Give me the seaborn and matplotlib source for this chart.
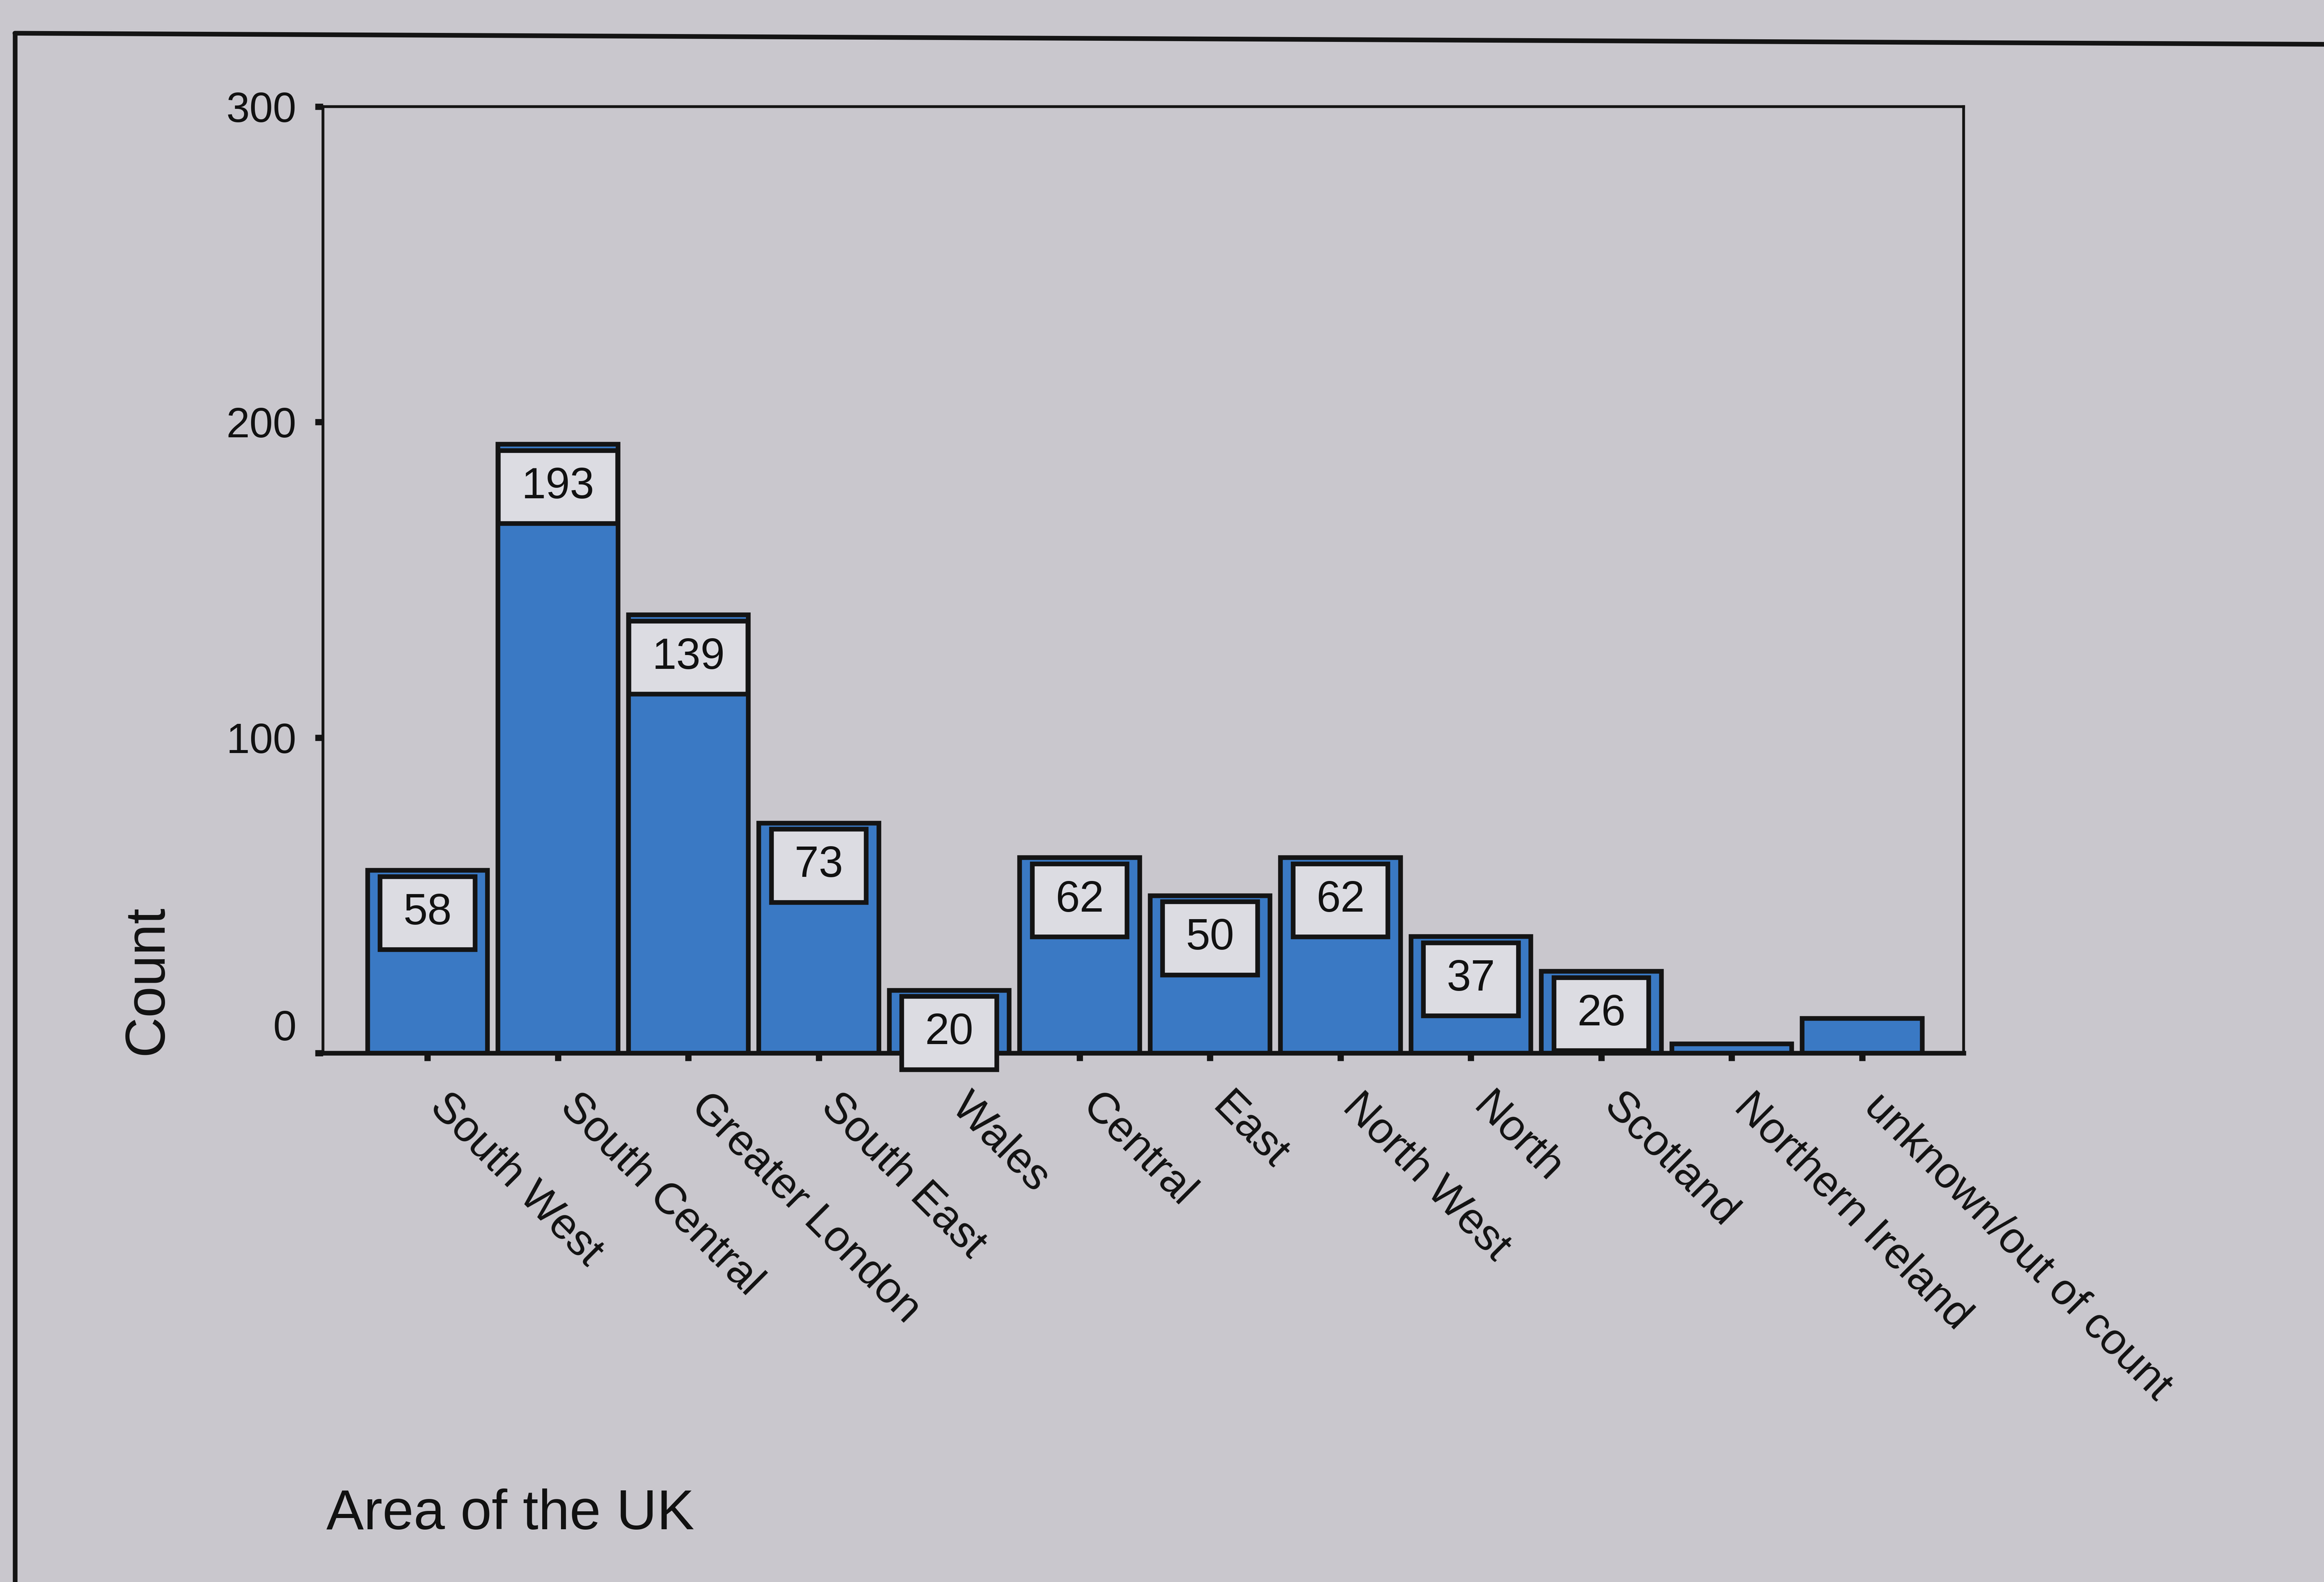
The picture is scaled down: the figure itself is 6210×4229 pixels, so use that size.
import numpy as np
import pandas as pd
import matplotlib
matplotlib.use("Agg")
import matplotlib.pyplot as plt
import matplotlib.transforms as mtransforms
from matplotlib.lines import Line2D
from matplotlib.path import Path
import seaborn as sns

# ---- data ----
areas = ["South West", "South Central", "Greater London", "South East", "Wales",
         "Central", "East", "North West", "North", "Scotland",
         "Northern Ireland", "unknown/out of count"]
counts = [58, 193, 139, 73, 20, 62, 50, 62, 37, 26, 3, 11]
show_label = [True, True, True, True, True, True, True, True, True, True, False, False]
y_ticks = [0, 100, 200, 300]

BG = "#c9c7cd"
BLUE = "#3a79c4"
BOX_BG = "#dcdce2"
EDGE = "#141414"
TXT = "#111111"

sns.set_theme(style="white")
plt.rcParams["font.family"] = ["Liberation Sans", "DejaVu Sans"]

df = pd.DataFrame({"Area": areas, "Count": counts})

fig = plt.figure(figsize=(20.7, 14.0967), dpi=300, facecolor=BG)
ax = fig.add_axes([0.139, 0.3343, 0.706, 0.5983])
ax.set_facecolor(BG)

sns.barplot(data=df, x="Area", y="Count", order=areas, color=BLUE, saturation=1,
            edgecolor=EDGE, linewidth=3, width=0.92, ax=ax)

ax.set_xlim(-0.8, 11.78)
ax.set_ylim(0, 300)
ax.set_yticks(y_ticks)
ax.set_yticklabels([str(t) for t in y_ticks], fontsize=27, color=TXT)

for side in ["left", "top", "right", "bottom"]:
    ax.spines[side].set_visible(True)
    ax.spines[side].set_color(EDGE)
ax.spines["left"].set_linewidth(1.8)
ax.spines["top"].set_linewidth(1.8)
ax.spines["right"].set_linewidth(1.8)
ax.spines["bottom"].set_linewidth(3)

ax.tick_params(axis="y", which="major", direction="out", length=5, width=4,
               color=EDGE, pad=12, left=True, labelcolor=TXT)
ax.tick_params(axis="x", which="major", direction="out", length=5, width=4,
               color=EDGE, pad=16, bottom=True, labelcolor=TXT)

# the "0" label sits a little above the axis corner in the original
ylabs = ax.get_yticklabels()
up = mtransforms.ScaledTranslation(0, 18 / 72, fig.dpi_scale_trans)
ylabs[0].set_transform(ylabs[0].get_transform() + up)

ax.set_xticks(range(len(areas)))
ax.set_xticklabels(areas, rotation=-45, ha="left", va="top",
                   rotation_mode="anchor", fontsize=28, color=TXT)
offset = mtransforms.ScaledTranslation(15 / 72, 0, fig.dpi_scale_trans)
for lab in ax.get_xticklabels():
    lab.set_transform(lab.get_transform() + offset)


def label_box(x0, y0, width, height, mutation_size, padx=0.53, pady=0.37):
    px = padx * mutation_size
    py = pady * mutation_size
    verts = [(x0 - px, y0 - py), (x0 + width + px, y0 - py),
             (x0 + width + px, y0 + height + py), (x0 - px, y0 + height + py),
             (x0 - px, y0 - py)]
    return Path(verts, closed=True)


fs = 28
pady = 0.37
for i, (v, s) in enumerate(zip(counts, show_label)):
    if not s:
        continue
    ax.annotate(str(v), xy=(i, v), xytext=(0, -(pady * fs + 4)),
                textcoords="offset points", ha="center", va="top", fontsize=fs,
                color=TXT,
                bbox=dict(boxstyle=label_box, fc=BOX_BG, ec=EDGE, lw=3),
                annotation_clip=False, zorder=5)

ax.set_ylabel("Count", fontsize=36, color=TXT)
ax.yaxis.set_label_coords(-0.091, 0.077)
ax.set_xlabel("Area of the UK", fontsize=36, color=TXT, ha="left", va="top")
ax.xaxis.set_label_coords(0.002, -0.46)

# outer frame of the document chart
fig.add_artist(Line2D([0.0064, 1.0], [0.979, 0.972], transform=fig.transFigure,
                      color=EDGE, lw=3))
fig.add_artist(Line2D([0.0064, 0.0064], [0.0, 0.979], transform=fig.transFigure,
                      color=EDGE, lw=3))

fig.savefig("out.png", dpi=300, facecolor=BG)
